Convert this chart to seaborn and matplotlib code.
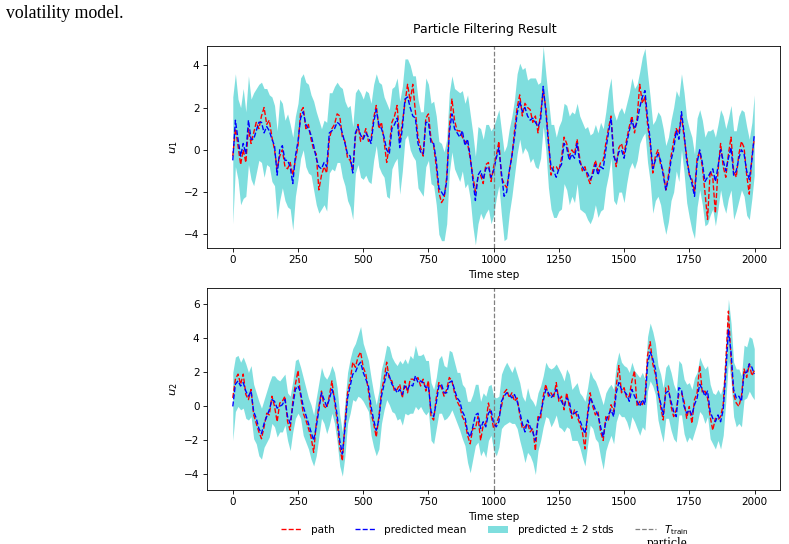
import numpy as np
import matplotlib
matplotlib.use("Agg")
import matplotlib.pyplot as plt
import seaborn as sns

# time axis: every 10th step plus the last one
steps = np.append(np.arange(0, 2000, 10), 1999)
t_train = 1000

# ---- u_1 ----
u1_path = [
    -0.3, 1.0, 0.2, -0.7, 0.0, -0.6, 1.0, 0.3, 0.8, 1.3,
    1.0, 1.6, 2.0, 1.2, 1.4, 0.6, 0.0, -0.9, -0.3, 0.0,
    -0.8, -0.9, -0.6, -1.2, -0.5, 0.2, 1.8, 2.0, 1.0, 1.2,
    0.5, 0.0, -0.2, -1.9, -1.2, -0.8, -1.1, 0.5, 1.0, 1.2,
    1.7, 1.6, 0.6, 0.4, -0.4, -0.5, -1.0, 0.6, 1.2, 0.4,
    0.6, 1.0, 0.4, 0.5, 1.5, 2.1, 1.0, 1.3, 0.4, -0.6,
    0.2, 1.3, 1.6, 2.1, 0.4, 1.3, 2.2, 3.1, 2.3, 3.1,
    1.8, 0.6, 0.1, -0.3, 1.5, 1.7, 0.5, 0.2, -0.8, -2.0,
    -2.5, -2.3, -1.3, 1.0, 2.4, 1.4, 0.9, 0.9, 0.6, 0.4,
    0.3, -0.4, -1.2, -2.0, -1.3, -1.2, -1.6, -0.7, -0.6, -1.5,
    -0.8, -0.3, 0.4, -1.3, -1.6, -1.8, -1.0, -0.3, 0.9, 2.0,
    2.6, 1.6, 2.2, 2.0, 1.9, 1.3, 1.6, 0.8, 1.7, 2.8,
    2.0, 0.5, -1.2, -0.8, -0.8, -1.0, -0.4, 0.6, 0.3, -0.3,
    0.0, -0.2, 0.5, -0.4, -1.0, -0.8, -1.3, -1.6, -1.0, -0.5,
    -1.0, -0.6, -0.5, 0.3, 1.0, 1.6, -0.1, -0.8, 0.1, 0.3,
    -0.2, 0.5, 1.1, 1.6, 0.8, 1.5, 3.1, 2.2, 2.5, 1.2,
    0.3, -1.1, -0.3, 0.0, -0.7, -1.0, -1.9, -1.2, -0.3, 0.4,
    1.0, 0.8, 1.6, 0.6, -0.3, -1.2, -1.4, -2.0, -0.4, -0.1,
    -0.8, -2.0, -3.3, -1.0, -1.3, -3.0, -1.0, 0.3, -0.8, -1.3,
    -0.2, 0.6, -1.0, -1.3, -0.2, 0.4, 0.1, -1.2, -2.1, -0.3,
    0.5,
]
u1_mean = [
    -0.5, 1.4, 0.5, -0.3, 0.3, -0.2, 1.4, 0.5, 0.5, 0.9,
    1.3, 1.3, 0.8, 1.1, 0.9, 0.5, 0.2, -1.2, 0.0, 0.2,
    -0.5, -0.5, -0.8, -1.6, -0.3, 0.4, 1.5, 1.8, 1.2, 1.0,
    0.7, 0.2, -0.4, -0.8, -0.9, -0.6, -0.8, 0.8, 0.9, 1.0,
    1.3, 1.2, 0.8, 0.3, -0.2, -0.3, -1.1, 0.8, 1.1, 0.7,
    0.5, 0.8, 0.6, 0.3, 1.3, 1.9, 1.2, 1.0, 0.6, 0.0,
    -0.2, 1.0, 1.2, 1.5, 0.1, 1.0, 2.4, 2.5, 2.0, 1.6,
    1.5, 0.3, -0.1, -0.2, 1.3, 1.3, 0.3, 0.3, -0.5, -1.8,
    -2.0, -2.2, -1.5, 0.8, 1.7, 1.0, 0.8, 0.6, 0.9, 0.2,
    0.5, -0.3, -1.4, -2.4, -1.2, -1.0, -1.4, -0.9, -0.8, -1.3,
    -1.0, -0.4, 0.1, -1.1, -2.2, -2.0, -1.0, -0.3, 0.6, 1.7,
    2.3, 1.8, 2.0, 1.6, 1.4, 1.5, 1.3, 1.1, 1.4, 3.0,
    1.8, 0.3, -0.8, -1.0, -1.3, -0.9, -0.7, 0.3, 0.1, -0.5,
    -0.2, -0.4, 0.3, -0.6, -0.8, -1.0, -1.1, -1.4, -1.2, -0.7,
    -1.2, -0.8, -0.9, 0.0, 0.8, 1.5, -0.3, -0.6, -0.1, 0.0,
    -0.4, 0.3, 0.9, 1.4, 1.0, 1.3, 2.0, 2.5, 2.8, 1.5,
    0.5, -0.9, -0.5, -0.2, -0.5, -1.2, -1.9, -1.4, -0.5, 0.0,
    0.9, 0.5, 1.8, 0.8, -0.5, -1.1, -1.6, -2.2, -0.6, 0.0,
    -0.6, -1.5, -1.3, -1.1, -0.9, -1.5, -0.8, 0.0, -0.5, -1.0,
    -0.4, 0.1, -1.2, -1.0, -0.4, 0.0, -0.2, -1.0, -1.4, -0.5,
    0.7,
]
# two standard deviations of the prediction (visible band half-width)
u1_spread = [
    3.0, 2.2, 1.9, 2.3, 2.6, 2.0, 2.1, 1.9, 2.2, 2.0,
    1.8, 1.9, 2.1, 1.8, 1.7, 2.0, 1.9, 2.1, 2.4, 2.0,
    1.9, 2.2, 2.0, 2.2, 1.9, 1.8, 1.9, 1.8, 2.0, 2.1,
    1.9, 2.1, 2.2, 2.2, 1.9, 2.0, 2.1, 1.9, 1.8, 2.0,
    1.9, 1.8, 2.1, 2.0, 2.2, 2.4, 2.2, 1.9, 1.8, 2.0,
    1.9, 2.0, 2.1, 1.9, 1.8, 1.7, 2.0, 2.1, 1.9, 2.2,
    2.1, 1.9, 1.8, 1.9, 2.2, 2.0, 1.9, 1.8, 2.0, 1.9,
    2.0, 2.1, 1.9, 2.0, 2.1, 1.8, 1.9, 2.0, 2.1, 2.2,
    2.3, 2.1, 2.0, 1.9, 1.8, 1.9, 2.0, 2.1, 1.9, 2.0,
    2.1, 2.0, 2.2, 2.1, 2.3, 2.0, 1.9, 2.1, 2.0, 2.2,
    2.1, 1.9, 1.8, 2.0, 2.1, 2.2, 2.0, 1.9, 1.8, 1.9,
    1.8, 2.0, 1.9, 1.7, 2.0, 1.9, 2.1, 2.0, 1.8, 1.9,
    1.8, 2.1, 2.0, 2.2, 1.9, 2.0, 2.1, 1.9, 2.0, 2.1,
    2.0, 2.1, 1.9, 2.2, 2.1, 2.0, 2.2, 2.1, 2.0, 1.9,
    2.0, 2.1, 1.9, 1.8, 2.0, 1.9, 2.1, 2.0, 1.9, 2.0,
    2.1, 1.9, 1.8, 2.0, 1.9, 1.8, 1.7, 1.9, 2.0, 2.1,
    2.0, 2.1, 1.9, 2.0, 2.1, 2.2, 2.1, 2.0, 1.9, 2.0,
    1.9, 2.0, 1.8, 1.9, 2.0, 2.1, 2.2, 2.0, 2.1, 1.9,
    2.0, 2.1, 2.2, 2.0, 1.9, 2.1, 2.0, 1.9, 2.1, 2.0,
    1.9, 2.0, 2.1, 1.9, 2.0, 1.9, 2.0, 2.1, 1.9, 1.8,
    1.9,
]

# ---- u_2 ----
u2_path = [
    0.5, 1.6, 1.9, 1.3, 1.9, 0.7, 0.4, 1.0, -0.5, -1.0,
    -1.5, -1.9, -1.2, -0.4, -0.5, 0.6, 0.0, -0.9, 0.2, 0.3,
    0.6, -0.9, -1.4, 0.3, 1.3, 2.1, 0.6, -0.4, -0.8, -1.3,
    -1.8, -2.7, -1.0, 0.0, 0.9, 0.0, -0.1, 0.6, 1.5, 0.3,
    -0.8, -2.4, -3.2, -1.0, 0.8, 1.5, 2.6, 2.3, 2.9, 3.2,
    2.3, 1.9, 0.9, -0.4, -1.0, -1.8, -0.6, 0.9, 1.6, 2.6,
    1.6, 1.5, 0.9, 1.0, 1.3, 0.5, 1.5, 0.8, 1.6, 1.6,
    1.5, 1.7, 1.2, 1.6, 0.9, 1.5, -0.6, -0.8, 0.5, 1.4,
    1.1, 0.6, 1.0, 1.7, 1.5, 0.8, 0.3, 0.0, -0.6, -0.9,
    -1.7, -2.2, -1.3, -1.3, -0.6, -2.0, -1.1, -1.0, 0.2, -0.5,
    -1.3, -1.0, -0.6, 0.0, 0.8, 1.0, 0.5, 0.8, 0.3, 0.5,
    -0.5, -1.3, -1.2, -1.0, -1.5, -1.3, -2.6, -0.6, -0.7, 0.6,
    1.3, 0.6, 0.8, 0.5, 1.4, 0.3, 0.6, -0.2, 0.8, 0.0,
    -0.7, -0.2, -0.6, -1.0, -1.5, -2.5, -0.4, 0.8, 0.0, -0.5,
    -0.3, -1.5, -2.0, -0.6, -0.8, 0.1, -0.3, 1.2, 2.4, 0.8,
    1.1, 0.5, 0.6, 1.5, 2.1, 0.0, 0.3, 0.1, 0.5, 3.0,
    3.8, 2.5, 1.9, 1.0, 0.0, -0.8, 1.1, 1.2, 0.0, -0.6,
    -0.2, 0.7, 0.8, 0.3, -0.7, 0.0, -1.0, 0.4, 0.8, 2.4,
    0.8, 0.9, 0.5, -0.6, -1.4, -0.7, -0.8, -0.6, 0.1, 2.6,
    5.6, 2.8, 0.7, 0.2, 0.0, 0.6, 2.2, 1.7, 2.5, 1.8,
    2.1,
]
u2_mean = [
    0.0, 1.3, 1.5, 1.2, 1.4, 0.9, 0.6, 0.9, -0.3, -0.7,
    -1.3, -1.6, -1.0, -0.6, -0.2, 0.4, 0.3, -0.1, 0.0, 0.1,
    0.4, -0.6, -1.0, 0.0, 1.0, 1.2, 0.8, 0.0, -0.5, -1.0,
    -1.5, -2.0, -1.2, -0.2, 0.8, 0.4, 0.0, 0.4, 1.0, 0.5,
    -0.5, -2.0, -2.8, -1.3, 0.5, 1.2, 1.9, 2.0, 2.4, 2.6,
    2.0, 1.6, 1.2, 0.0, -0.8, -1.4, -0.8, 0.6, 1.3, 2.0,
    1.8, 1.3, 1.1, 0.8, 1.0, 0.7, 1.2, 1.0, 1.3, 1.2,
    1.8, 1.4, 1.5, 1.4, 1.1, 1.2, -0.3, -0.6, 0.2, 1.2,
    1.3, 0.8, 0.8, 1.4, 1.5, 1.0, 0.5, 0.3, -0.3, -0.6,
    -1.5, -1.8, -1.2, -0.5, -0.4, -1.3, -0.9, -1.2, -0.4, -0.2,
    -1.0, -1.2, -0.9, 0.3, 0.6, 0.8, 0.7, 0.5, 0.7, 0.3,
    -0.3, -1.0, -1.5, -0.8, -1.2, -1.5, -2.0, -0.9, -0.4, 0.3,
    1.0, 0.8, 0.5, 0.7, 1.0, 0.5, 0.3, 0.0, 0.5, 0.3,
    -0.5, -0.4, -0.3, -0.8, -1.2, -1.6, -0.6, 0.5, 0.2, -0.2,
    -0.5, -1.2, -1.8, -0.9, -0.5, -0.2, -0.6, 0.8, 1.4, 1.0,
    0.9, 0.7, 0.3, 1.0, 0.6, 0.3, 0.0, 0.4, 0.1, 2.5,
    3.2, 2.8, 2.2, 0.8, 0.2, -0.5, 0.8, 0.9, 0.3, -0.3,
    -0.6, 1.1, 1.0, 0.0, -0.4, -0.2, -0.5, 0.1, 0.5, 1.3,
    1.0, 0.6, 0.9, -0.3, -0.7, -0.9, -0.5, -0.9, -0.2, 2.0,
    4.5, 3.2, 1.0, 0.5, 0.6, 0.3, 2.0, 2.0, 2.5, 2.3,
    1.9,
]
u2_spread = [
    2.0, 1.6, 1.5, 1.4, 1.5, 1.6, 1.4, 1.5, 1.6, 1.5,
    1.6, 1.5, 1.4, 1.5, 1.6, 1.4, 1.5, 1.7, 1.5, 1.6,
    1.5, 1.4, 1.6, 1.5, 1.7, 1.6, 1.5, 1.7, 1.6, 1.5,
    1.6, 1.5, 1.7, 1.6, 1.5, 1.4, 1.6, 1.5, 1.4, 1.5,
    1.6, 1.5, 1.3, 1.6, 1.5, 1.6, 1.5, 1.7, 1.8, 2.1,
    1.7, 1.6, 1.5, 1.7, 1.6, 1.5, 1.7, 1.6, 1.5, 1.6,
    1.7, 1.6, 1.5, 1.6, 1.7, 1.8, 1.6, 1.5, 1.7, 1.6,
    1.8, 1.6, 1.5, 1.7, 1.6, 1.5, 1.7, 1.6, 1.5, 1.6,
    1.7, 1.6, 1.5, 1.9, 1.7, 1.6, 1.5, 1.7, 1.6, 1.7,
    1.8, 2.1, 1.9, 1.8, 1.7, 1.6, 1.7, 1.8, 1.6, 1.5,
    1.6, 1.7, 1.5, 1.6, 1.7, 1.8, 1.6, 1.5, 1.7, 1.6,
    1.7, 1.6, 1.8, 1.9, 1.7, 1.8, 2.0, 1.7, 1.6, 1.5,
    1.6, 1.5, 1.7, 1.6, 1.5, 1.7, 1.6, 1.5, 1.7, 1.6,
    1.5, 1.6, 1.7, 1.6, 1.8, 1.9, 1.7, 1.6, 1.5, 1.7,
    1.6, 1.8, 1.9, 1.7, 1.6, 1.5, 1.6, 1.7, 1.8, 1.6,
    1.5, 1.6, 1.7, 1.6, 1.5, 1.6, 1.7, 1.6, 1.5, 1.6,
    1.7, 1.6, 1.5, 1.6, 1.7, 1.6, 1.5, 1.6, 1.7, 1.6,
    1.5, 1.6, 1.5, 1.6, 1.7, 1.6, 1.5, 1.6, 1.5, 1.6,
    1.5, 1.6, 1.5, 1.6, 1.5, 1.6, 1.5, 1.6, 1.5, 1.7,
    1.8, 1.7, 1.6, 1.7, 1.6, 1.5, 1.6, 1.5, 1.6, 1.7,
    1.5,
]

fig = plt.figure(figsize=(789 / 75, 544 / 75), dpi=75)
ax1 = fig.add_axes([0.262, 0.544, 0.727, 0.371])
ax2 = fig.add_axes([0.262, 0.099, 0.727, 0.371])


def draw(ax, path, mean, spread, ylab):
    mean = np.asarray(mean)
    spread = np.asarray(spread)
    ax.fill_between(steps, mean - spread, mean + spread, color="c", alpha=0.5,
                    lw=0, label=r"predicted $\pm$ 2 stds")
    sns.lineplot(x=steps, y=path, ax=ax, color="r", linestyle="--", lw=1.3, label="path")
    sns.lineplot(x=steps, y=mean, ax=ax, color="b", linestyle="--", lw=1.3,
                 label="predicted mean")
    ax.axvline(t_train, color="gray", linestyle="--", lw=1.2, label=r"$T_{\rm train}$")
    ax.set_xlabel("Time step")
    ax.set_ylabel(ylab, fontsize=11)
    ax.get_legend().remove()


draw(ax1, u1_path, u1_mean, u1_spread, "$u_1$")
draw(ax2, u2_path, u2_mean, u2_spread, "$u_2$")
ax1.set_ylim(-4.65, 4.9)
ax2.set_ylim(-4.92, 6.94)

handles, labels = ax1.get_legend_handles_labels()
lookup = dict(zip(labels, handles))
order = ["path", "predicted mean", r"predicted $\pm$ 2 stds", r"$T_{\rm train}$"]
fig.legend([lookup[k] for k in order], order, loc="center", ncol=4, frameon=False,
           bbox_to_anchor=(0.615, 0.026))

fig.text(0.615, 1 - 29 / 544, "Particle Filtering Result", ha="center", va="center",
         fontsize=12)

# surrounding page text visible in the screenshot
fig.text(0.007, 1 - 13 / 544, "volatility model.", family="Liberation Serif",
         fontsize=17, va="center")
fig.text(647 / 789, 0.0, "particle", family="Liberation Serif", fontsize=13,
         va="center")

fig.savefig("out.png", dpi=75)
